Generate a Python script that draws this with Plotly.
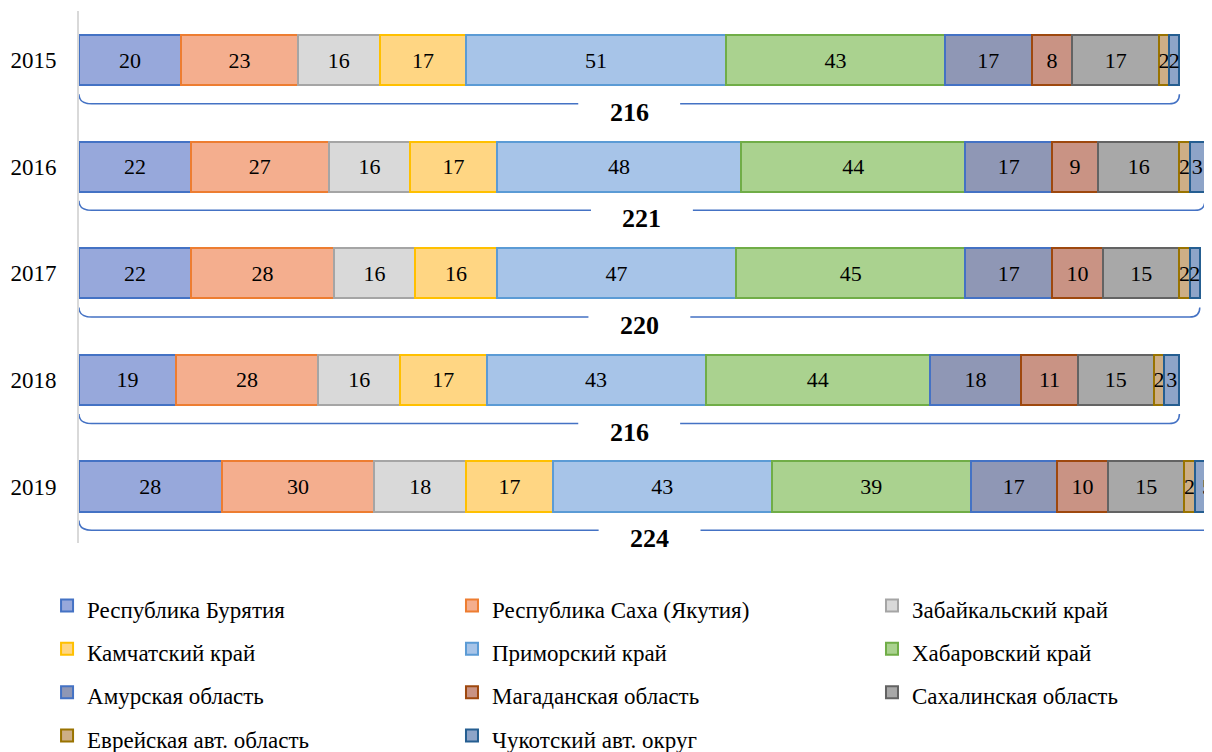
import plotly.graph_objects as go

years = ["2015", "2016", "2017", "2018", "2019"]
regions = [
    "Республика Бурятия", "Республика Саха (Якутия)", "Забайкальский край",
    "Камчатский край", "Приморский край", "Хабаровский край",
    "Амурская область", "Магаданская область", "Сахалинская область",
    "Еврейская авт. область", "Чукотский авт. округ",
]
buryatia = [20, 22, 22, 19, 28]
sakha = [23, 27, 28, 28, 30]
zabaikal = [16, 16, 16, 16, 18]
kamchatka = [17, 17, 16, 17, 17]
primorye = [51, 48, 47, 43, 43]
khabarovsk = [43, 44, 45, 44, 39]
amur = [17, 17, 17, 18, 17]
magadan = [8, 9, 10, 11, 10]
sakhalin = [17, 16, 15, 15, 15]
evrei = [2, 2, 2, 2, 2]
chukotka = [2, 3, 2, 3, 5]
series = [buryatia, sakha, zabaikal, kamchatka, primorye, khabarovsk,
          amur, magadan, sakhalin, evrei, chukotka]

fills = ["#97A8DB", "#F4AE8E", "#D9D9D9", "#FFD683", "#A7C4E8", "#AAD28F",
         "#8F97B5", "#C99384", "#A8A8A8", "#CDAE86", "#8EA4C8"]
borders = ["#4472C4", "#ED7D31", "#A5A5A5", "#FFC000", "#5B9BD5", "#70AD47",
           "#4472C4", "#9E480E", "#636363", "#997300", "#255E91"]

FONT = "Liberation Serif"
ypos = list(range(len(years)))
legend_ids = ["legend", "legend2", "legend3"]

fig = go.Figure()
for k, (name, vals, fc, bc) in enumerate(zip(regions, series, fills, borders)):
    fig.add_trace(go.Bar(
        y=ypos, x=vals, orientation="h",
        name=f"<span style='font-family:\"{FONT}\";font-size:23px'>{name}</span>",
        legend=legend_ids[k % 3],
        marker=dict(color=fc, line=dict(color=bc, width=2)),
        width=0.47,
        text=[str(v) for v in vals], textposition="inside",
        insidetextanchor="middle", constraintext="none",
        textfont=dict(family=FONT, size=22, color="black"),
        hoverinfo="skip",
    ))

totals = [sum(s[i] for s in series) for i in range(len(years))]

shapes = []
annotations = []
for i, t in enumerate(totals):
    yl = i + 0.41
    ys = i + 0.32
    gap = 10
    path = (f"M 0,{ys} Q 0,{yl} 2.5,{yl} L {t/2 - gap},{yl} "
            f"M {t/2 + gap},{yl} L {t - 2},{yl} Q {t},{yl} {t},{ys}")
    shapes.append(dict(type="path", path=path, xref="x", yref="y",
                       line=dict(color="#4472C4", width=1.5)))
    annotations.append(dict(x=t / 2, y=i + 0.49, xref="x", yref="y",
                            text=f"<b>{t}</b>", showarrow=False,
                            font=dict(family=FONT, size=26, color="black")))

leg_common = dict(orientation="v", xanchor="left", y=-0.0675, yanchor="top",
                  traceorder="normal", bgcolor="rgba(0,0,0,0)",
                  font=dict(family=FONT, size=31, color="black"),
                  itemclick=False, itemdoubleclick=False)

# page body has an 8px default margin; figure is sized to compensate
fig.update_layout(
    width=1204, height=744,
    barmode="stack",
    plot_bgcolor="white", paper_bgcolor="white",
    margin=dict(l=71, r=0, t=3, b=209, autoexpand=False),
    font=dict(family=FONT, color="black"),
    uniformtext=dict(minsize=22, mode="show"),
    xaxis=dict(range=[0, 222.4], visible=False),
    yaxis=dict(range=[4.53, -0.46], tickvals=ypos, ticktext=years,
               showgrid=False, zeroline=False, showline=True,
               linecolor="#D9D9D9", linewidth=2,
               tickfont=dict(family=FONT, size=23, color="black"),
               ticklabelstandoff=16),
    showlegend=True,
    legend=dict(x=-0.0282, **leg_common),
    legend2=dict(x=0.3292, **leg_common),
    legend3=dict(x=0.6999, **leg_common),
    shapes=shapes, annotations=annotations,
)
fig.write_html("out.html")
